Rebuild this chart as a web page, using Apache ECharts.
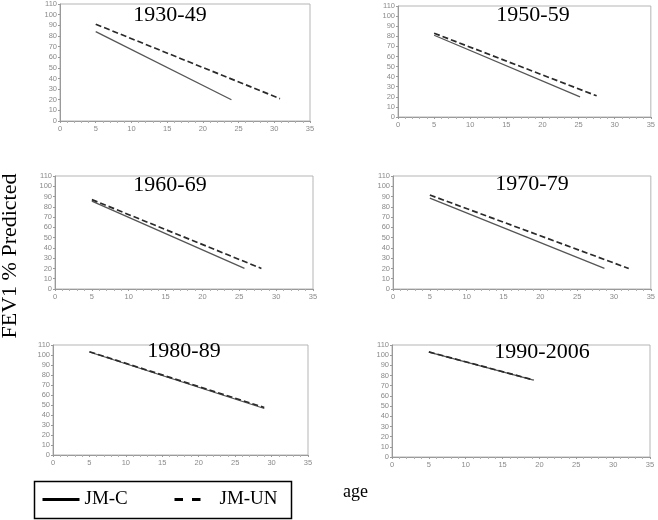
<!DOCTYPE html>
<html>
<head>
<meta charset="utf-8">
<script src="https://cdn.jsdelivr.net/npm/echarts@6/dist/echarts.min.js"></script>
<style>
  html, body { margin: 0; padding: 0; background: #fff; }
  #main { width: 658px; height: 520px; }
</style>
</head>
<body>
<div id="main"></div>
<script>
// birth cohorts, one panel each
var periods = ['1930-49', '1950-59', '1960-69', '1970-79', '1980-89', '1990-2006'];

// [age, FEV1 %] start and end of each fitted line
var jmC = [
    [[5, 84], [24, 20]],
    [[5, 81], [25.2, 20]],
    [[5, 85.5], [25.7, 20]],
    [[5, 88.5], [28.7, 20]],
    [[5, 103], [29, 46.5]],
    [[5, 103], [19.2, 75.5]]
];
var jmUN = [
    [[5, 91], [30.8, 21]],
    [[5, 83], [27.5, 21]],
    [[5, 87], [28, 20]],
    [[5, 91.5], [32, 20]],
    [[5, 103.3], [29, 47.5]],
    [[5, 103.2], [19.2, 75.7]]
];

var xTicks = [0, 35, 5];    // min, max, step
var yTicks = [0, 110, 10];

var myChart = echarts.init(document.getElementById('main'));

// plot boxes
var boxes = [
    {left: 60, top: 2, width: 250, height: 119},
    {left: 398, top: 6, width: 254, height: 111},
    {left: 55, top: 176, width: 258, height: 113},
    {left: 393, top: 176, width: 259, height: 113},
    {left: 53, top: 345, width: 255, height: 110},
    {left: 392, top: 345, width: 258, height: 112}
];
var titlePos = [[170, 15], [533, 15], [170, 185], [532, 184], [184, 351], [542, 352]];

var grids = [], xAxes = [], yAxes = [], series = [], graphics = [];
var serif = '"Liberation Serif", "DejaVu Serif", serif';
var noDot = {color: 'rgba(0,0,0,0)', borderColor: 'rgba(0,0,0,0)', borderWidth: 0};

for (let i = 0; i < periods.length; i++) {
    grids.push(Object.assign({
        show: true,
        borderColor: '#b5b5b5',
        borderWidth: 1,
        backgroundColor: 'transparent',
        containLabel: false
    }, boxes[i]));

    xAxes.push({
        type: 'value',
        gridIndex: i,
        min: xTicks[0],
        max: xTicks[1],
        interval: xTicks[2],
        axisLine: {show: true, lineStyle: {color: '#9a9a9a', width: 1}},
        axisTick: {show: true, length: 2, lineStyle: {color: '#9a9a9a'}},
        minorTick: {show: true, splitNumber: 5, length: 2, lineStyle: {color: '#b0b0b0'}},
        axisLabel: {fontSize: 7.5, color: '#8a8a8a', margin: 4, fontFamily: 'Arial, "Liberation Sans", sans-serif'},
        splitLine: {show: false}
    });

    yAxes.push({
        type: 'value',
        gridIndex: i,
        min: yTicks[0],
        max: yTicks[1],
        interval: yTicks[2],
        axisLine: {show: true, lineStyle: {color: '#9a9a9a', width: 1}},
        axisTick: {show: true, length: 2, lineStyle: {color: '#9a9a9a'}},
        axisLabel: {fontSize: 7.5, color: '#8a8a8a', margin: 3, fontFamily: 'Arial, "Liberation Sans", sans-serif'},
        splitLine: {show: false}
    });

    series.push({
        name: 'JM-C',
        type: 'line',
        xAxisIndex: i,
        yAxisIndex: i,
        data: jmC[i],
        symbol: 'none',
        silent: true,
        lineStyle: {color: '#555555', width: 1.3, type: 'solid'},
        itemStyle: {color: '#000'}
    });
    series.push({
        name: 'JM-UN',
        type: 'line',
        xAxisIndex: i,
        yAxisIndex: i,
        data: jmUN[i],
        symbol: 'none',
        silent: true,
        lineStyle: {color: '#2a2a2a', width: 1.7, type: [6, 3]},
        itemStyle: {color: '#000'}
    });

    graphics.push({
        type: 'text',
        x: titlePos[i][0],
        y: titlePos[i][1],
        silent: true,
        style: {
            text: periods[i],
            fill: '#000',
            font: '22px ' + serif,
            textAlign: 'center',
            textVerticalAlign: 'middle'
        }
    });
}

// y title
graphics.push({
    type: 'text',
    x: 10,
    y: 256,
    rotation: Math.PI / 2,
    silent: true,
    style: {
        text: 'FEV1 % Predicted',
        fill: '#000',
        font: '22px ' + serif,
        textAlign: 'center',
        textVerticalAlign: 'middle'
    }
});
// x title
graphics.push({
    type: 'text',
    x: 343,
    y: 492,
    silent: true,
    style: {
        text: 'age',
        fill: '#000',
        font: '18px ' + serif,
        textAlign: 'left',
        textVerticalAlign: 'middle'
    }
});
// legend frame
graphics.push({
    type: 'rect',
    silent: true,
    shape: {x: 34.5, y: 481.5, width: 257, height: 37},
    style: {fill: 'none', stroke: '#000', lineWidth: 1.5}
});

var option = {
    animation: false,
    backgroundColor: '#fff',
    grid: grids,
    xAxis: xAxes,
    yAxis: yAxes,
    legend: [
        {
            data: [{name: 'JM-C', lineStyle: {width: 3, color: '#000', type: 'solid'}, itemStyle: noDot}],
            left: 41,
            top: 490,
            padding: 0,
            itemWidth: 37,
            itemHeight: 20,
            selectedMode: false,
            textStyle: {fontSize: 19, color: '#000', fontFamily: serif}
        },
        {
            data: [{name: 'JM-UN', lineStyle: {width: 3, color: '#000', type: [8.5, 9]}, itemStyle: noDot}],
            left: 173,
            top: 490,
            padding: 0,
            itemWidth: 26,
            itemHeight: 20,
            selectedMode: false,
            textStyle: {fontSize: 19, color: '#000', fontFamily: serif, padding: [0, 0, 0, 14]}
        }
    ],
    graphic: graphics,
    series: series
};

myChart.setOption(option);
</script>
</body>
</html>
